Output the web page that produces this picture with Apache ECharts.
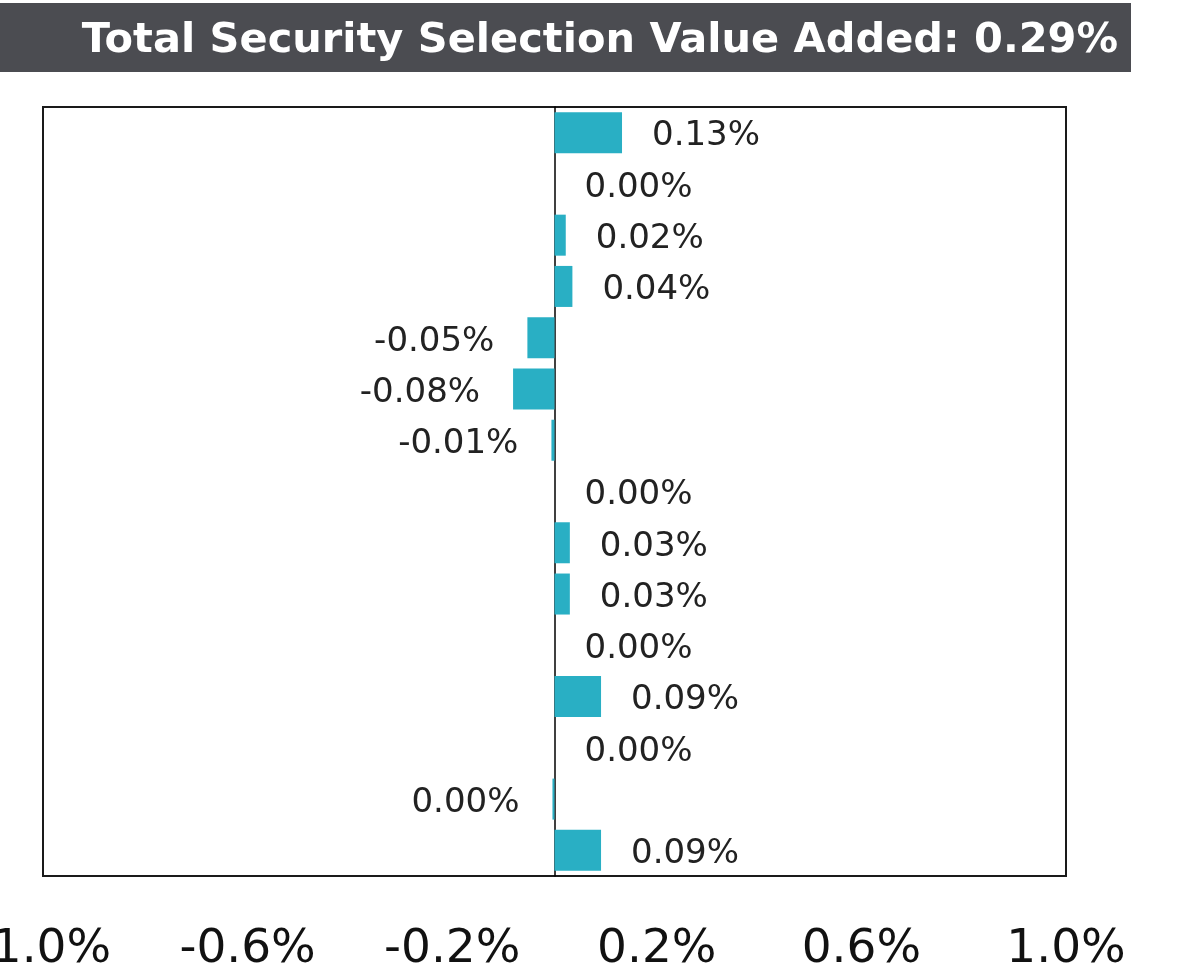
<!DOCTYPE html>
<html>
<head>
<meta charset="utf-8">
<script src="https://cdn.jsdelivr.net/npm/echarts@6/dist/echarts.min.js"></script>
<style>
html,body{margin:0;padding:0;background:#fff;}
#chart{width:1189px;height:972px;}
</style>
</head>
<body>
<div id="chart"></div>
<script>
var titleText = 'Total Security Selection Value Added: 0.29%';
var categories = ['S1','S2','S3','S4','S5','S6','S7','S8','S9','S10','S11','S12','S13','S14','S15'];
var values = [0.132, 0, 0.022, 0.035, -0.053, -0.081, -0.006, 0, 0.03, 0.03, 0, 0.091, 0, -0.004, 0.091];
var valueLabels = ['0.13%','0.00%','0.02%','0.04%','-0.05%','-0.08%','-0.01%','0.00%','0.03%','0.03%','0.00%','0.09%','0.00%','0.00%','0.09%'];
var xTickLabels = {'-1': '-1.0%', '-0.6': '-0.6%', '-0.2': '-0.2%', '0.2': '0.2%', '0.6': '0.6%', '1': '1.0%'};

var chart = echarts.init(document.getElementById('chart'));
var seriesData = values.map(function (v, i) {
  return {
    value: v,
    label: {
      position: v < 0 ? 'left' : 'right',
      distance: v < 0 ? 33 : 30
    }
  };
});
chart.setOption({
  animation: false,
  backgroundColor: '#ffffff',
  graphic: [
    { type: 'rect', left: 0, top: 3, shape: { width: 1131, height: 69 }, style: { fill: '#4b4c51' }, z: 10 },
    { type: 'text', right: 1189 - 1118, top: 20,
      style: { text: titleText, fill: '#ffffff', font: 'bold 41.5px "DejaVu Sans"', textAlign: 'right' }, z: 11 }
  ],
  grid: {
    left: 43, right: 123, top: 107, bottom: 96,
    containLabel: false, outerBoundsMode: 'none',
    show: true, borderColor: '#1a1a1a', borderWidth: 2, backgroundColor: 'transparent'
  },
  xAxis: {
    type: 'value', min: -1, max: 1, interval: 0.4,
    axisLine: { show: false }, axisTick: { show: false }, splitLine: { show: false },
    axisLabel: {
      margin: 50, color: '#111', fontFamily: 'DejaVu Sans', fontSize: 47,
      formatter: function (v) { var k = String(Math.round(v * 10) / 10); return xTickLabels[k] !== undefined ? xTickLabels[k] : ''; }
    }
  },
  yAxis: {
    type: 'category', data: categories, inverse: true,
    axisLabel: { show: false }, axisTick: { show: false },
    axisLine: { show: true, onZero: true, lineStyle: { color: '#000', width: 1.5 } }
  },
  series: [{
    type: 'bar', data: seriesData, barWidth: '80%',
    itemStyle: { color: '#29afc4' },
    label: {
      show: true, color: '#222', fontFamily: 'DejaVu Sans', fontSize: 34, offset: [0, 4],
      formatter: function (p) { return valueLabels[p.dataIndex]; }
    }
  }]
});
</script>
</body>
</html>
